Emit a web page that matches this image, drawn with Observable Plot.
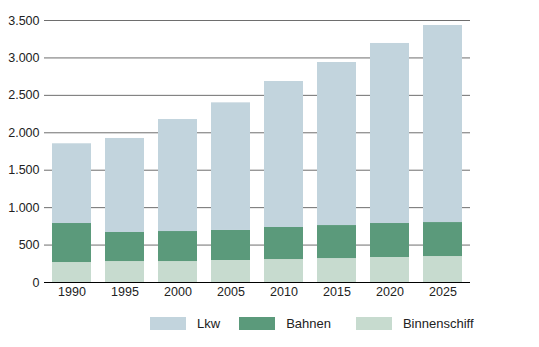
<!DOCTYPE html>
<html>
<head>
<meta charset="utf-8">
<script src="https://cdn.jsdelivr.net/npm/d3@7"></script>
<script src="https://cdn.jsdelivr.net/npm/@observablehq/plot@0.6"></script>
<style>
  body { margin: 0; background: #fff; font-family: "Liberation Sans Narrow", "Arial Narrow", "Liberation Sans", Arial, sans-serif; }
  #wrap { position: relative; width: 539px; height: 347px; }
  #legend { position: absolute; top: 316px; left: 150px; display: flex; font-size: 13px; color: #222; }
  .item { display: flex; align-items: center; }
  .sw { width: 36px; height: 13px; display: inline-block; }
  .lbl { margin-left: 11px; }
</style>
</head>
<body>
<div id="wrap"><div id="chart"></div><div id="legend"></div></div>
<script>
const years = ["1990", "1995", "2000", "2005", "2010", "2015", "2020", "2025"];
const series = ["Binnenschiff", "Bahnen", "Lkw"];
const binnenschiff = [267, 280, 280, 294, 307, 320, 334, 347];
const bahnen = [521, 388, 401, 401, 428, 441, 454, 454];
const lkw = [1065, 1256, 1496, 1705, 1950, 2178, 2405, 2632];
const colors = ["#c7dbcf", "#5b9a7b", "#c2d4dd"];
const yTicks = [0, 500, 1000, 1500, 2000, 2500, 3000, 3500];
const legendOrder = ["Lkw", "Bahnen", "Binnenschiff"];

const valuesBySeries = {Binnenschiff: binnenschiff, Bahnen: bahnen, Lkw: lkw};
const rows = [];
years.forEach((y, i) => series.forEach(s => rows.push({year: y, series: s, value: valuesBySeries[s][i]})));

const de = d3.formatLocale({decimal: ",", thousands: ".", grouping: [3], currency: ["", " €"]});
const fmt = de.format(",");

const chart = Plot.plot({
  width: 539,
  height: 300,
  marginTop: 20,
  marginBottom: 18,
  marginLeft: 44,
  marginRight: 69,
  style: {fontFamily: '"Liberation Sans Narrow", "Arial Narrow", "Liberation Sans", Arial, sans-serif', fontSize: "12.5px", color: "#222"},
  x: {domain: years, paddingInner: 0.27, paddingOuter: 0.135, label: null, tickSize: 0, tickPadding: 5},
  y: {domain: [0, 3500], label: null, ticks: yTicks, tickSize: 0, tickPadding: 5, tickFormat: fmt},
  color: {domain: series, range: colors},
  marks: [
    Plot.ruleY(yTicks.filter(d => d > 0), {stroke: "#6e6e6e", strokeWidth: 1, strokeOpacity: 1}),
    Plot.barY(rows, {x: "year", y: "value", fill: "series", order: null}),
    Plot.ruleY([0], {stroke: "#000", strokeWidth: 1.2})
  ]
});
document.getElementById("chart").appendChild(chart);

const legend = document.getElementById("legend");
const gaps = [19, 25, 0];
legendOrder.forEach((s, i) => {
  const it = document.createElement("div");
  it.className = "item";
  it.style.marginRight = gaps[i] + "px";
  const sw = document.createElement("span");
  sw.className = "sw";
  sw.style.background = colors[series.indexOf(s)];
  const lb = document.createElement("span");
  lb.className = "lbl";
  lb.textContent = s;
  it.appendChild(sw); it.appendChild(lb);
  legend.appendChild(it);
});
</script>
</body>
</html>
